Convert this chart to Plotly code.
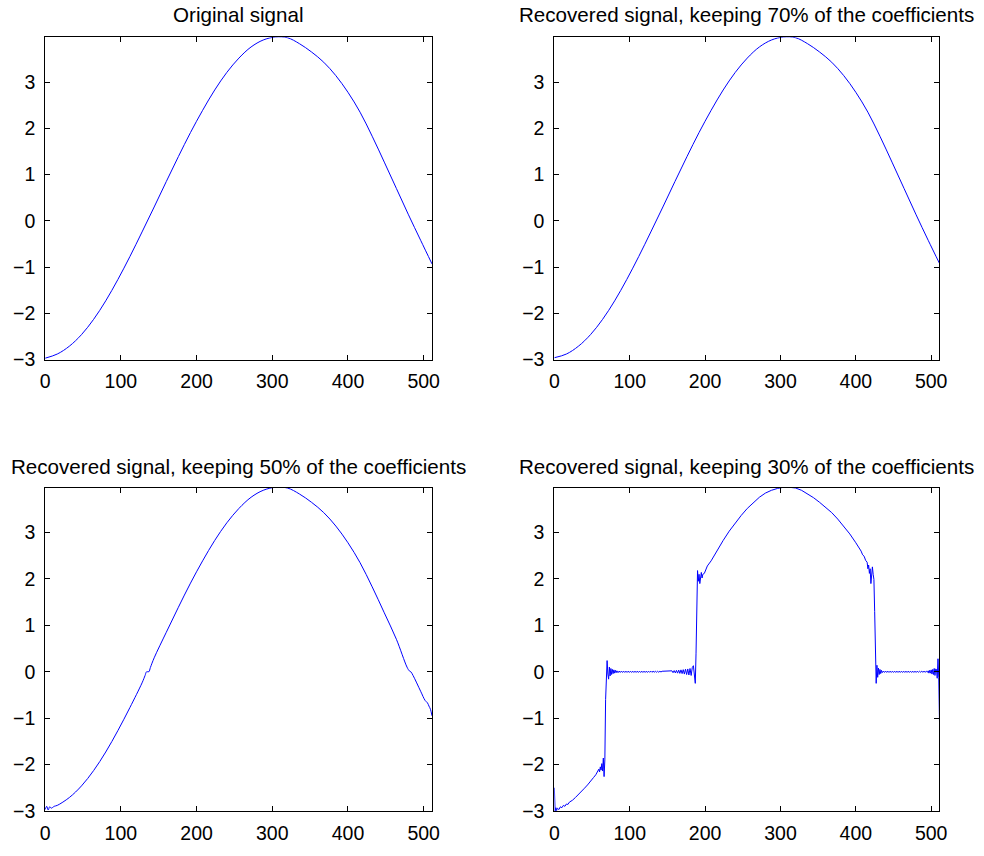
import plotly.graph_objects as go

W, H = 984, 856

# ---------------- data ----------------
x_orig = [0, 16, 32, 48, 64, 80, 96, 112, 128, 144, 160, 176, 192, 208, 224, 240, 256,
          272, 288, 304, 320, 336, 352, 368, 384, 400, 416, 432, 448, 464, 480, 496, 511]
y_orig = [-2.97, -2.88, -2.71, -2.46, -2.13, -1.73, -1.27, -0.77, -0.24, 0.30, 0.85, 1.39,
          1.91, 2.39, 2.83, 3.21, 3.52, 3.76, 3.91, 3.975, 3.96, 3.83, 3.65, 3.43, 3.14,
          2.78, 2.35, 1.83, 1.27, 0.70, 0.13, -0.42, -0.93]

x_70 = [0, 16, 32, 48, 64, 80, 96, 112, 128, 144, 160, 176, 192, 208, 224, 240, 256,
        272, 288, 304, 320, 336, 352, 368, 384, 400, 416, 432, 448, 464, 480, 496, 511]
y_70 = [-2.96, -2.88, -2.71, -2.46, -2.13, -1.73, -1.27, -0.77, -0.24, 0.30, 0.85, 1.39,
        1.91, 2.39, 2.83, 3.21, 3.52, 3.76, 3.91, 3.975, 3.96, 3.83, 3.65, 3.43, 3.14,
        2.78, 2.35, 1.83, 1.27, 0.70, 0.13, -0.42, -0.92]

x_50 = [0, 2, 4, 6, 8, 12, 16, 32, 48, 64, 80, 96, 112, 128, 132, 134, 137, 139, 144, 160,
        176, 192, 208, 224, 240, 256, 272, 288, 304, 320, 336, 352, 368, 384, 400, 416, 432,
        448, 464, 478, 481, 483, 486, 496, 502, 505, 507, 509, 511]
y_50 = [-2.97, -2.90, -2.98, -2.91, -2.94, -2.90, -2.88, -2.71, -2.46, -2.13, -1.73, -1.27,
        -0.77, -0.24, -0.08, 0.00, 0.00, 0.09, 0.30, 0.85, 1.39, 1.91, 2.39, 2.83, 3.21,
        3.52, 3.76, 3.91, 3.975, 3.96, 3.83, 3.65, 3.43, 3.14, 2.78, 2.35, 1.83,
        1.27, 0.70, 0.10, 0.02, 0.00, -0.08, -0.42, -0.62, -0.67, -0.74, -0.81, -0.95]

# 30% reconstruction: low part, ringing, arc, ringing
x_30_a = [0, 1, 2, 3, 4, 6, 8, 10, 12, 14, 16, 18, 20, 24, 28, 32, 36, 40, 44, 48, 52, 55,
          57, 59, 60, 61, 62, 63, 64, 65, 66, 67, 68, 69, 70, 71, 72, 73, 74, 75, 76, 77,
          78, 79, 80, 81, 82, 83]
y_30_a = [-2.50, -3.00, -2.93, -2.99, -2.94, -2.97, -2.91, -2.93, -2.88, -2.90, -2.85, -2.86,
          -2.81, -2.77, -2.71, -2.65, -2.58, -2.51, -2.44, -2.37, -2.28, -2.22, -2.17, -2.10,
          -2.16, -2.05, -2.12, -1.98, -2.14, -1.86, -2.26, -1.90, -0.60, 0.05, 0.24, -0.05,
          -0.16, 0.10, -0.09, 0.07, -0.06, 0.05, -0.04, 0.04, -0.03, 0.03, -0.02, 0.02]
x_30_b = [84.5, 86, 87.5, 89, 90.5, 92, 93.5, 95, 96.5, 98, 99.5, 101, 102.5, 104, 105.5,
          107, 108.5, 110, 111.5, 113, 114.5, 116, 117.5, 119, 120.5, 122, 123.5, 125, 126.5,
          128, 129.5, 131, 132.5, 134, 135.5, 137, 138.5, 140, 141.5, 143, 154]
y_30_b = [-0.02, 0.015, -0.015, 0.015, -0.015, 0.012, -0.015, 0.012, -0.015, 0.012, -0.015,
          0.012, -0.015, 0.012, -0.015, 0.012, -0.015, 0.012, -0.015, 0.012, -0.015, 0.012,
          -0.015, 0.012, -0.015, 0.012, -0.015, 0.012, -0.012, 0.012, -0.012, 0.012, -0.01,
          0.01, -0.01, 0.01, -0.01, 0.01, -0.005, 0.01, 0.01]
x_30_c = [156, 157.5, 159, 160.5, 162, 163.5, 165, 166.5, 168, 169.5, 171, 172.5, 174, 175.5,
          177, 178.5, 180, 181.5, 183, 184.5, 186, 187, 188, 189, 190, 191, 192, 193, 194, 195,
          196, 197, 199, 201, 203]
y_30_c = [0.02, -0.02, 0.025, -0.025, 0.03, -0.03, 0.035, -0.035, 0.04, -0.04, 0.045, -0.05,
          0.055, -0.06, 0.06, -0.07, 0.07, -0.08, 0.09, 0.13, -0.10, -0.25, 0.40, 1.50, 2.18,
          1.95, 2.10, 1.90, 2.08, 2.14, 2.02, 2.10, 2.12, 2.22, 2.28]
x_30_d = [208, 216, 224, 232, 240, 248, 256, 264, 272, 280, 288, 296, 304, 312, 320, 328, 336,
          344, 352, 360, 368, 376, 384, 392, 400, 404, 407, 409, 411, 413, 415, 416, 417, 418,
          419, 420, 421, 422, 423, 424, 425]
y_30_d = [2.39, 2.62, 2.83, 3.03, 3.21, 3.37, 3.52, 3.65, 3.76, 3.85, 3.91, 3.95, 3.975, 3.975,
          3.96, 3.91, 3.83, 3.75, 3.65, 3.55, 3.43, 3.29, 3.14, 2.97, 2.78, 2.68, 2.60, 2.52,
          2.49, 2.40, 2.36, 2.22, 2.30, 2.12, 2.22, 1.90, 2.15, 2.26, 2.10, 1.99, 1.30]
x_30_e = [426, 427, 428, 429, 430, 431, 432, 433, 434, 435, 436.5, 438, 439.5, 441, 442.5, 444,
          445.5, 447, 448.5, 450, 451.5, 453, 454.5, 456, 457.5, 459, 460.5, 462, 463.5, 465,
          466.5, 468, 469.5, 471, 472.5, 474, 475.5, 477, 478.5, 480, 481.5, 483, 484.5, 486,
          487.5, 489, 490.5, 492, 493.5, 495]
y_30_e = [0.00, -0.25, 0.14, -0.12, 0.08, -0.06, 0.05, -0.04, 0.03, -0.02, 0.015, -0.015,
          0.015, -0.015, 0.012, -0.015, 0.012, -0.015, 0.012, -0.015, 0.012, -0.015, 0.012,
          -0.015, 0.012, -0.015, 0.012, -0.015, 0.012, -0.015, 0.012, -0.015, 0.012, -0.015,
          0.012, -0.015, 0.012, -0.015, 0.012, -0.015, 0.012, -0.012, 0.01, -0.01, 0.01,
          -0.01, 0.01, -0.01, 0.01, -0.01]
x_30_f = [496, 497, 498, 499, 500, 501, 502, 503, 504, 505, 506, 507, 508, 509, 510, 511]
y_30_f = [0.02, -0.03, 0.03, -0.03, 0.04, -0.05, 0.05, -0.06, 0.07, -0.08, 0.06, 0.05, -0.14,
          0.28, -0.12, -1.08]

x_30 = x_30_a + x_30_b + x_30_c + x_30_d + x_30_e + x_30_f
y_30 = y_30_a + y_30_b + y_30_c + y_30_d + y_30_e + y_30_f

titles = ["Original signal",
          "Recovered signal, keeping 70% of the coefficients",
          "Recovered signal, keeping 50% of the coefficients",
          "Recovered signal, keeping 30% of the coefficients"]

x_ticks = [0, 100, 200, 300, 400, 500]
y_ticks = [-3, -2, -1, 0, 1, 2, 3]
x_range = [0, 511]
y_range = [-3.01, 3.97]

# ---------------- layout geometry (pixels) ----------------
cols = [(40.7, 432.7), (556.7, 947.0)]
rows = [(37.7, 364.3), (493.3, 821.0)]
title_y = [15, 472]

series = [(x_orig, y_orig, "spline"), (x_70, y_70, "spline"),
          (x_50, y_50, "spline"), (x_30, y_30, "linear")]

FONT = "Liberation Sans, Arial, Helvetica, sans-serif"
fig = go.Figure()
layout = dict(width=W, height=H, margin=dict(l=0, r=0, t=0, b=0),
              paper_bgcolor="white", plot_bgcolor="white", showlegend=False,
              font=dict(family=FONT, size=19, color="black"), annotations=[])

for i, (xs, ys, shape) in enumerate(series):
    r, c = divmod(i, 2)
    sfx = "" if i == 0 else str(i + 1)
    line = dict(color="#0000ff", width=1, shape=shape)
    if shape == "spline":
        line["smoothing"] = 1.0
    fig.add_trace(go.Scatter(x=xs, y=ys, mode="lines", line=line,
                             xaxis="x" + sfx, yaxis="y" + sfx, hoverinfo="skip"))
    x0, x1 = cols[c]
    y0, y1 = rows[r]
    common = dict(showgrid=False, zeroline=False, showline=True, linecolor="black",
                  linewidth=1, mirror="ticks", ticks="inside", ticklen=5, tickwidth=1,
                  tickcolor="black", tickfont=dict(family=FONT, size=19.5, color="black"))
    layout["xaxis" + sfx] = dict(domain=[x0 / W, x1 / W], range=x_range, tickvals=x_ticks,
                                 anchor="y" + sfx, ticklabelstandoff=4, **common)
    layout["yaxis" + sfx] = dict(domain=[1 - y1 / H, 1 - y0 / H], range=y_range,
                                 tickvals=y_ticks, anchor="x" + sfx, ticklabelstandoff=5,
                                 **common)
    layout["annotations"].append(dict(text=titles[i], xref="paper", yref="paper",
                                      x=(x0 + x1) / 2 / W, y=1 - title_y[r] / H,
                                      xanchor="center", yanchor="middle", showarrow=False,
                                      font=dict(family=FONT, size=20.6, color="black")))

fig.update_layout(**layout)
fig.write_html("out.html")
